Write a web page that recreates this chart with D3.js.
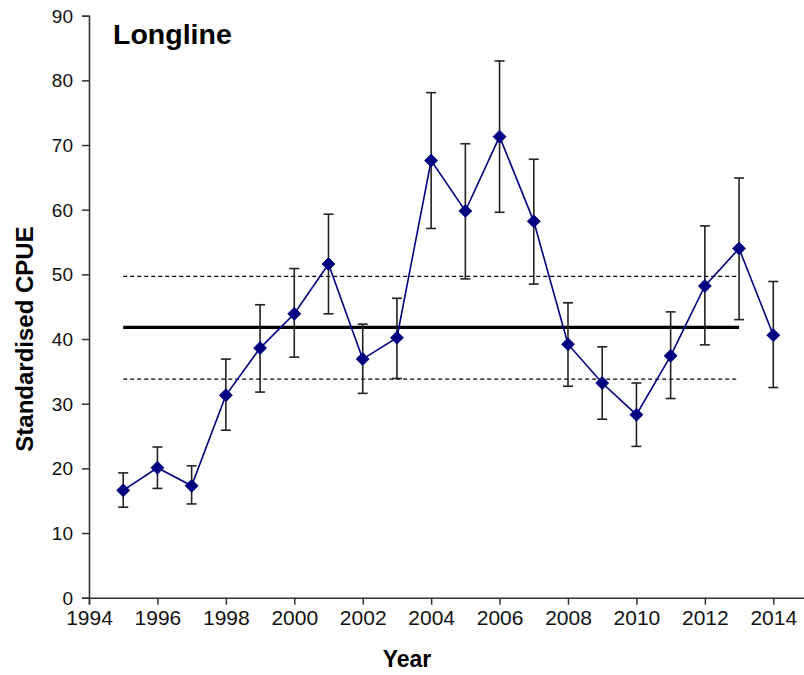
<!DOCTYPE html>
<html>
<head>
<meta charset="utf-8">
<script src="https://cdn.jsdelivr.net/npm/d3@7"></script>
<style>
	body { margin: 0; background: #fff; }
	svg { display: block; font-family: "Liberation Sans", Arial, sans-serif; }
</style>
</head>
<body>
<svg id="chart" width="804" height="675"></svg>
<script>
// values
const years = [1995, 1996, 1997, 1998, 1999, 2000, 2001, 2002, 2003, 2004,
	2005, 2006, 2007, 2008, 2009, 2010, 2011, 2012, 2013, 2014];
const cpue = [16.6, 20.1, 17.3, 31.3, 38.6, 43.9, 51.6, 36.9, 40.2, 67.6,
	59.8, 71.3, 58.2, 39.2, 33.2, 28.3, 37.4, 48.2, 54.0, 40.6];
const upper = [19.3, 23.3, 20.4, 36.9, 45.3, 50.9, 59.3, 42.3, 46.3, 78.1,
	70.2, 83.0, 67.8, 45.6, 38.8, 33.2, 44.2, 57.5, 64.9, 48.9];
const lower = [14.0, 16.9, 14.5, 25.9, 31.8, 37.2, 43.9, 31.6, 33.9, 57.1,
	49.3, 59.6, 48.5, 32.7, 27.6, 23.4, 30.8, 39.1, 43.0, 32.5];

// reference period mean and its band
const refYears = [1995, 2013];
const refMean = 41.8;
const refBand = [33.8, 49.7];

const xTicks = [1994, 1996, 1998, 2000, 2002, 2004, 2006, 2008, 2010, 2012, 2014];
const yTicks = [0, 10, 20, 30, 40, 50, 60, 70, 80, 90];

const svg = d3.select("#chart");

const x = d3.scaleLinear().domain([1994, 2015]).range([89, 807.5]);
const y = d3.scaleLinear().domain([0, 90]).range([597.7, 15.7]);

const axisColor = "#333";

// axes
const xAxis = svg.append("g")
	.attr("transform", `translate(0,${y(0)})`)
	.call(d3.axisBottom(x).tickValues(xTicks).tickFormat(d3.format("d")).tickSize(7).tickPadding(5));
const yAxis = svg.append("g")
	.attr("transform", `translate(${x(1994)},0)`)
	.call(d3.axisLeft(y).tickValues(yTicks).tickSize(7).tickPadding(9));

[xAxis, yAxis].forEach((g) => {
	g.select(".domain").attr("stroke", axisColor).attr("stroke-width", 1.6);
	g.selectAll(".tick line").attr("stroke", axisColor).attr("stroke-width", 1.5);
	g.selectAll(".tick text")
		.attr("fill", "#111")
		.style("font-family", "'Liberation Sans', Arial, sans-serif");
});
xAxis.selectAll(".tick text").style("font-size", "21px");
yAxis.selectAll(".tick text").style("font-size", "19px").attr("dy", "0.34em");

// reference lines
const refLines = [
	{ v: refMean, width: 3.2, dash: null },
	{ v: refBand[0], width: 1.3, dash: "4 3" },
	{ v: refBand[1], width: 1.3, dash: "4 3" },
];
svg.append("g")
	.selectAll("line")
	.data(refLines)
	.enter()
	.append("line")
	.attr("x1", x(refYears[0]))
	.attr("x2", x(refYears[1]))
	.attr("y1", (d) => y(d.v))
	.attr("y2", (d) => y(d.v))
	.attr("stroke", "#000")
	.attr("stroke-width", (d) => d.width)
	.attr("stroke-dasharray", (d) => d.dash);

const points = years.map((yr, i) => ({ yr, v: cpue[i], hi: upper[i], lo: lower[i] }));

// error bars
const bars = svg.append("g").attr("stroke", "#222").attr("stroke-width", 1.6);
bars.selectAll("line.bar")
	.data(points)
	.enter()
	.append("line")
	.attr("class", "bar")
	.attr("x1", (d) => x(d.yr))
	.attr("x2", (d) => x(d.yr))
	.attr("y1", (d) => y(d.hi))
	.attr("y2", (d) => y(d.lo));
["hi", "lo"].forEach((k) => {
	bars.selectAll(`line.cap-${k}`)
		.data(points)
		.enter()
		.append("line")
		.attr("class", `cap-${k}`)
		.attr("x1", (d) => x(d.yr) - 5)
		.attr("x2", (d) => x(d.yr) + 5)
		.attr("y1", (d) => y(d[k]))
		.attr("y2", (d) => y(d[k]));
});

// series line
const line = d3.line().x((d) => x(d.yr)).y((d) => y(d.v));
svg.append("path")
	.datum(points)
	.attr("d", line)
	.attr("fill", "none")
	.attr("stroke", "#000080")
	.attr("stroke-width", 1.6);

// diamond markers
svg.append("g")
	.selectAll("path")
	.data(points)
	.enter()
	.append("path")
	.attr("transform", (d) => `translate(${x(d.yr)},${y(d.v)})`)
	.attr("d", "M0,-6.5L6.5,0L0,6.5L-6.5,0Z")
	.attr("fill", "#000080")
	.attr("stroke", "#000080")
	.attr("stroke-width", 0.8);

// titles
svg.append("text")
	.attr("x", 113)
	.attr("y", 44)
	.text("Longline")
	.style("font-size", "28.5px")
	.style("font-weight", "700")
	.attr("fill", "#000");

svg.append("text")
	.attr("x", 407)
	.attr("y", 667)
	.attr("text-anchor", "middle")
	.text("Year")
	.style("font-size", "23px")
	.style("font-weight", "700")
	.attr("fill", "#000");

svg.append("text")
	.attr("transform", "translate(33,339) rotate(-90)")
	.attr("text-anchor", "middle")
	.text("Standardised CPUE")
	.style("font-size", "24px")
	.style("font-weight", "700")
	.attr("fill", "#000");
</script>
</body>
</html>
